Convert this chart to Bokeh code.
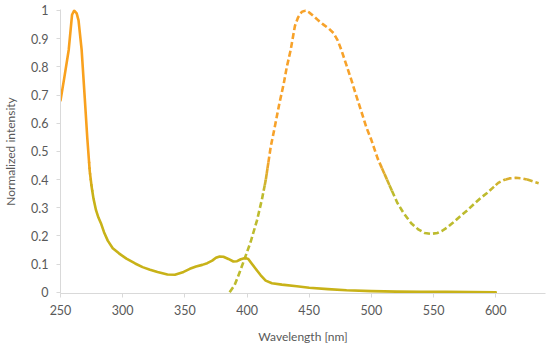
from bisect import bisect_right
import numpy as np
from bokeh.plotting import figure
from bokeh.models import ColumnDataSource, FixedTicker, CustomJSTickFormatter, Range1d
from bokeh.embed import file_html
from bokeh.resources import INLINE

# ---------------- data ----------------
ex_x = [250, 253, 256.6, 259.3, 261, 263, 264.5, 267, 269.5, 271.5, 273.5, 275, 276.5,
        278.5, 280.5, 282.5, 285, 288, 292, 297, 303, 310, 316, 322, 328, 336, 342, 349,
        354, 359, 364, 368, 372, 375, 378, 381, 385, 389, 392, 395, 398.5, 401, 404, 408,
        411, 415, 420, 428, 440, 450, 465, 480, 500, 520, 540, 560, 580, 600]
ex_y = [0.68, 0.76, 0.86, 0.985, 1.0, 0.99, 0.965, 0.86, 0.69, 0.55, 0.43, 0.375, 0.333,
        0.292, 0.265, 0.245, 0.213, 0.183, 0.156, 0.138, 0.119, 0.102, 0.089, 0.08,
        0.072, 0.063, 0.062, 0.072, 0.083, 0.091, 0.097, 0.103, 0.112, 0.122, 0.127,
        0.126, 0.118, 0.109, 0.11, 0.117, 0.121, 0.118, 0.1, 0.077, 0.06, 0.041, 0.032,
        0.027, 0.021, 0.016, 0.011, 0.007, 0.004, 0.002, 0.001, 0.001, 0.0005, 0.0]

em_x = [386, 390, 394, 398.5, 403, 408, 412, 415, 419, 422, 426, 429.5, 432, 435, 438.5,
        441, 444, 447, 450, 454, 457.5, 462, 466, 469.5, 473, 476, 480, 484, 488, 492,
        496, 500, 505, 510.5, 516, 521, 526, 532, 538, 543, 548, 553, 557, 561, 566, 571,
        577, 583, 588, 593, 598, 602, 606.5, 611, 616, 621, 626, 630, 634.5]
em_y = [0.0, 0.025, 0.07, 0.124, 0.18, 0.255, 0.33, 0.397, 0.515, 0.58, 0.67, 0.74, 0.8,
        0.858, 0.945, 0.975, 0.995, 1.0, 0.993, 0.978, 0.964, 0.948, 0.935, 0.92, 0.893,
        0.858, 0.805, 0.752, 0.695, 0.64, 0.585, 0.54, 0.475, 0.42, 0.365, 0.316, 0.28,
        0.245, 0.222, 0.21, 0.207, 0.21, 0.218, 0.23, 0.248, 0.268, 0.29, 0.315, 0.335,
        0.352, 0.372, 0.388, 0.398, 0.404, 0.406, 0.404, 0.399, 0.393, 0.387]

x_ticks = [250, 300, 350, 400, 450, 500, 550, 600]
y_ticks = [0, 0.1, 0.2, 0.3, 0.4, 0.5, 0.6, 0.7, 0.8, 0.9, 1.0]

# ---------------- gradient helper ----------------
EDGES = list(np.linspace(0.36, 0.46, 6))


def hex2rgb(h):
    h = h.lstrip("#")
    return [int(h[i:i + 2], 16) for i in (0, 2, 4)]


def mix(c_lo, c_hi, f):
    a, b = hex2rgb(c_lo), hex2rgb(c_hi)
    return "#%02x%02x%02x" % tuple(int(round(a[i] + (b[i] - a[i]) * f)) for i in range(3))


def band_runs(xs, ys, lo_color, hi_color):
    nb = len(EDGES)
    runs_x, runs_y, cols = [], [], []
    cur_band = None
    for i in range(len(xs) - 1):
        x0, y0, x1, y1 = xs[i], ys[i], xs[i + 1], ys[i + 1]
        ts = [0.0, 1.0]
        for e in EDGES:
            if (y0 - e) * (y1 - e) < 0:
                ts.append((e - y0) / (y1 - y0))
        ts.sort()
        for a, b in zip(ts[:-1], ts[1:]):
            xa, ya = x0 + (x1 - x0) * a, y0 + (y1 - y0) * a
            xb, yb = x0 + (x1 - x0) * b, y0 + (y1 - y0) * b
            bnd = bisect_right(EDGES, (ya + yb) / 2)
            if bnd != cur_band:
                runs_x.append([xa])
                runs_y.append([ya])
                cols.append(mix(lo_color, hi_color, bnd / nb))
                cur_band = bnd
            runs_x[-1].append(xb)
            runs_y[-1].append(yb)
    return runs_x, runs_y, cols


# ---------------- figure ----------------
p = figure(width=550, height=349, output_backend="svg", toolbar_location=None,
           x_range=Range1d(250, 640), y_range=Range1d(-0.0046, 1.0035),
           min_border_left=57, min_border_right=5, min_border_top=9, min_border_bottom=56)
p.outline_line_color = None
p.grid.visible = False
p.background_fill_color = "white"
p.border_fill_color = "white"

ex_rx, ex_ry, ex_c = band_runs(ex_x, ex_y, "#c8b218", "#f9a11e")
em_rx, em_ry, em_c = band_runs(em_x, em_y, "#bdbb2e", "#f7a22a")

p.multi_line(xs="xs", ys="ys", line_color="c", line_width=2.6,
             source=ColumnDataSource(dict(xs=em_rx, ys=em_ry, c=em_c)),
             line_dash="6 3", line_cap="butt", line_join="round")
p.multi_line(xs="xs", ys="ys", line_color="c", line_width=2.6,
             source=ColumnDataSource(dict(xs=ex_rx, ys=ex_ry, c=ex_c)),
             line_cap="round", line_join="round")

font = "Lato"
txt = "#595959"
axc = "#d9d9d9"

p.xaxis.ticker = FixedTicker(ticks=x_ticks)
p.yaxis.ticker = FixedTicker(ticks=y_ticks)
p.yaxis.formatter = CustomJSTickFormatter(code="return Number(tick.toFixed(1)).toString();")
p.xaxis.axis_label = "Wavelength [nm]"
p.yaxis.axis_label = "Normalized intensity"

for ax in (p.xaxis, p.yaxis):
    ax.axis_line_color = axc
    ax.axis_line_width = 1
    ax.major_tick_line_color = axc
    ax.major_tick_out = 4
    ax.major_tick_in = 0
    ax.minor_tick_line_color = None
    ax.major_label_text_font = font
    ax.major_label_text_font_size = "12.5px"
    ax.major_label_text_color = txt
    ax.axis_label_text_font = font
    ax.axis_label_text_font_size = "12px"
    ax.axis_label_text_font_style = "normal"
    ax.axis_label_text_color = txt

p.xaxis.major_label_standoff = 7
p.xaxis.axis_label_standoff = 11
p.yaxis.major_label_standoff = 8
p.yaxis.axis_label_standoff = 10

open("out.html", "w").write(file_html(p, INLINE))
